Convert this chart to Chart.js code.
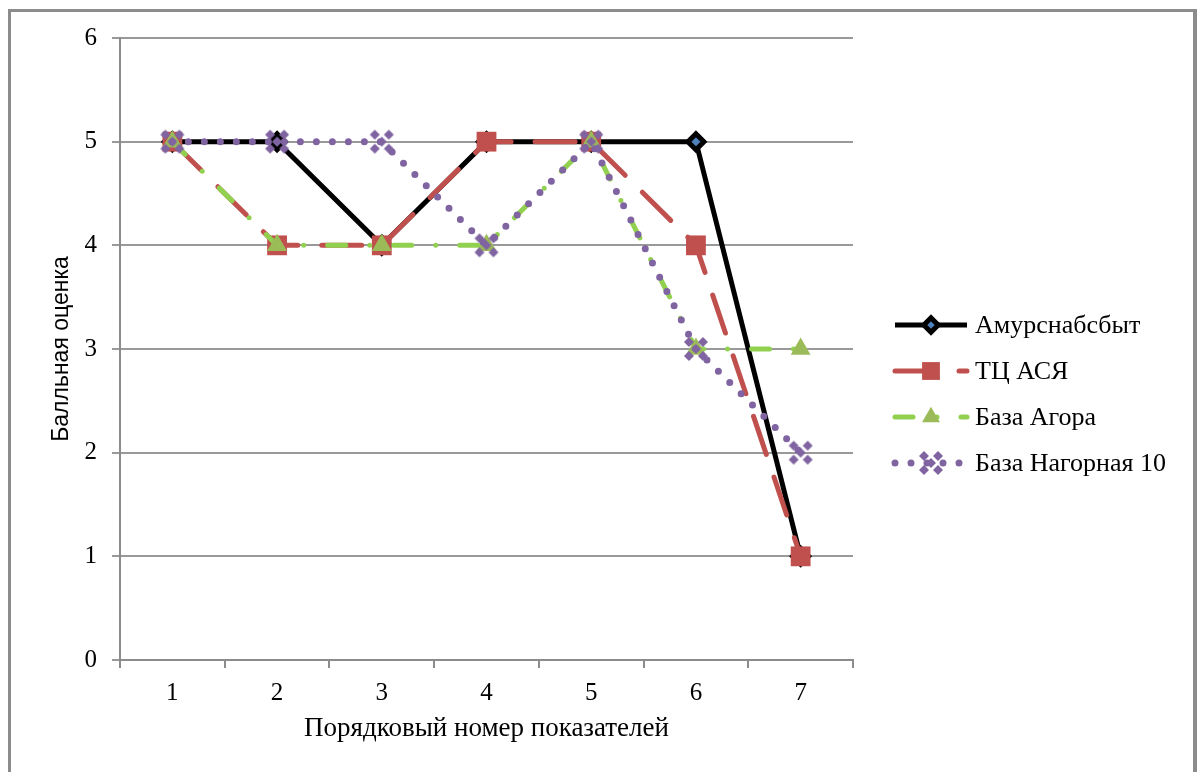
<!DOCTYPE html>
<html>
<head>
<meta charset="utf-8">
<script src="https://cdn.jsdelivr.net/npm/chart.js@4"></script>
<style>
  html, body { margin: 0; padding: 0; background: #fff; }
  #wrap { width: 1203px; height: 772px; position: relative; }
</style>
</head>
<body>
<div id="wrap"><canvas id="chart" width="1203" height="772"></canvas></div>
<script>
// Данные графика
const categories = ['1', '2', '3', '4', '5', '6', '7'];
const seriesNames = ['Амурснабсбыт', 'ТЦ АСЯ', 'База Агора', 'База Нагорная 10'];
const amurData = [5, 5, 4, 5, 5, 5, 1];
const asyaData = [5, 4, 4, 5, 5, 4, 1];
const agoraData = [5, 4, 4, 4, 5, 3, 3];
const nagornayaData = [5, 5, 5, 4, 5, 3, 2];
const yTicks = [0, 1, 2, 3, 4, 5, 6];

const serif = '"Liberation Serif", "Times New Roman", serif';
const sans = '"Liberation Sans", Arial, sans-serif';

// Маркер "X" из ромбиков для последней серии
function makeXMarker(color) {
    const c = document.createElement('canvas');
    c.width = 26; c.height = 26;
    const g = c.getContext('2d');
    g.fillStyle = color;
    const pts = [[6, 6], [20, 6], [13, 13], [6, 20], [20, 20]];
    pts.forEach(p => {
        g.beginPath();
        g.moveTo(p[0], p[1] - 5);
        g.lineTo(p[0] + 5, p[1]);
        g.lineTo(p[0], p[1] + 5);
        g.lineTo(p[0] - 5, p[1]);
        g.closePath();
        g.fill();
    });
    return c;
}
const xMarker = makeXMarker('#8064a2');

const datasets = [
    {
        label: seriesNames[0], data: amurData,
        borderColor: '#000000', borderWidth: 5,
        pointStyle: 'rectRot', pointRadius: 8, pointBorderWidth: 5,
        pointBackgroundColor: '#4f81bd', pointBorderColor: '#000000',
        order: 3
    },
    {
        label: seriesNames[1], data: asyaData,
        borderColor: '#c0504d', borderWidth: 5, borderDash: [40, 24], borderCapStyle: 'round',
        pointStyle: 'rect', pointRadius: 14, pointBorderWidth: 0,
        pointBackgroundColor: '#c0504d', pointBorderColor: '#c0504d',
        order: 2
    },
    {
        label: seriesNames[2], data: agoraData,
        borderColor: '#92d050', borderWidth: 5, borderDash: [18, 24, 0, 24], borderCapStyle: 'round',
        pointStyle: 'triangle', pointRadius: 11.5, pointBorderWidth: 0,
        pointBackgroundColor: '#9bbb59', pointBorderColor: '#9bbb59',
        order: 1
    },
    {
        label: seriesNames[3], data: nagornayaData,
        borderColor: '#8064a2', borderWidth: 7, borderDash: [0, 16], borderCapStyle: 'round',
        pointStyle: xMarker, pointRadius: 13,
        pointBackgroundColor: '#8064a2', pointBorderColor: '#8064a2',
        order: 0
    }
];

// Рамка вокруг диаграммы
const framePlugin = {
    id: 'frame',
    beforeDraw(chart) {
        const ctx = chart.ctx;
        ctx.save();
        ctx.fillStyle = '#fff';
        ctx.fillRect(0, 0, chart.width, chart.height);
        ctx.strokeStyle = '#8c8c8c';
        ctx.lineWidth = 3;
        ctx.beginPath();
        ctx.moveTo(9.5, 772);
        ctx.lineTo(9.5, 10.5);
        ctx.lineTo(1195, 10.5);
        ctx.stroke();
        ctx.lineWidth = 4;
        ctx.beginPath();
        ctx.moveTo(1195, 9);
        ctx.lineTo(1195, 772);
        ctx.stroke();
        ctx.restore();
    }
};

// Легенда справа в стиле Excel
const legendPlugin = {
    id: 'excelLegend',
    afterDraw(chart) {
        const ctx = chart.ctx;
        const x0 = 895, x1 = 967, xm = 931;
        const yStart = 325, step = 46;
        chart.data.datasets.forEach((ds, i) => {
            const y = yStart + i * step;
            ctx.save();
            ctx.strokeStyle = ds.borderColor;
            ctx.lineWidth = ds.borderWidth;
            ctx.lineCap = ds.borderCapStyle || 'butt';
            ctx.setLineDash(ds.borderDash || []);
            ctx.beginPath();
            ctx.moveTo(x0, y);
            ctx.lineTo(x1, y);
            ctx.stroke();
            ctx.setLineDash([]);
            ctx.fillStyle = ds.pointBackgroundColor;
            ctx.strokeStyle = ds.pointBorderColor;
            ctx.lineWidth = ds.pointBorderWidth || 0;
            Chart.helpers.drawPoint(ctx, {
                pointStyle: ds.pointStyle,
                radius: ds.pointRadius * 0.9,
                borderWidth: ds.pointBorderWidth || 0,
                rotation: 0
            }, xm, y);
            ctx.fillStyle = '#000';
            ctx.font = '26px ' + serif;
            ctx.textBaseline = 'middle';
            ctx.textAlign = 'left';
            ctx.fillText(ds.label, 975, y + 1);
            ctx.restore();
        });
    }
};

new Chart(document.getElementById('chart'), {
    type: 'line',
    data: { labels: categories, datasets: datasets },
    options: {
        responsive: false,
        animation: false,
        layout: { padding: { top: 38, right: 350, left: 0, bottom: 0 } },
        elements: { line: { tension: 0 } },
        plugins: { legend: { display: false }, tooltip: { enabled: false } },
        scales: {
            x: {
                offset: true,
                grid: { offset: true, drawOnChartArea: false, drawTicks: true, tickLength: 8, color: '#8c8c8c', lineWidth: 2 },
                border: { color: '#8c8c8c', width: 2 },
                ticks: { color: '#000', font: { family: serif, size: 25 }, padding: 10 },
                title: {
                    display: true, text: 'Порядковый номер показателей',
                    color: '#000', font: { family: serif, size: 27 }, padding: { bottom: 27 }
                },
                afterFit(scale) { scale.height = 112; }
            },
            y: {
                min: 0, max: 6,
                afterBuildTicks(scale) { scale.ticks = yTicks.map(v => ({ value: v })); },
                grid: { color: '#999999', lineWidth: 2, tickLength: 8 },
                border: { color: '#8c8c8c', width: 2 },
                ticks: { color: '#000', font: { family: serif, size: 25 }, padding: 15 },
                title: {
                    display: true, text: 'Балльная оценка',
                    color: '#000', font: { family: sans, size: 23 }, padding: { top: 48 }
                },
                afterFit(scale) { scale.width = 120; }
            }
        }
    },
    plugins: [framePlugin, legendPlugin]
});
</script>
</body>
</html>
